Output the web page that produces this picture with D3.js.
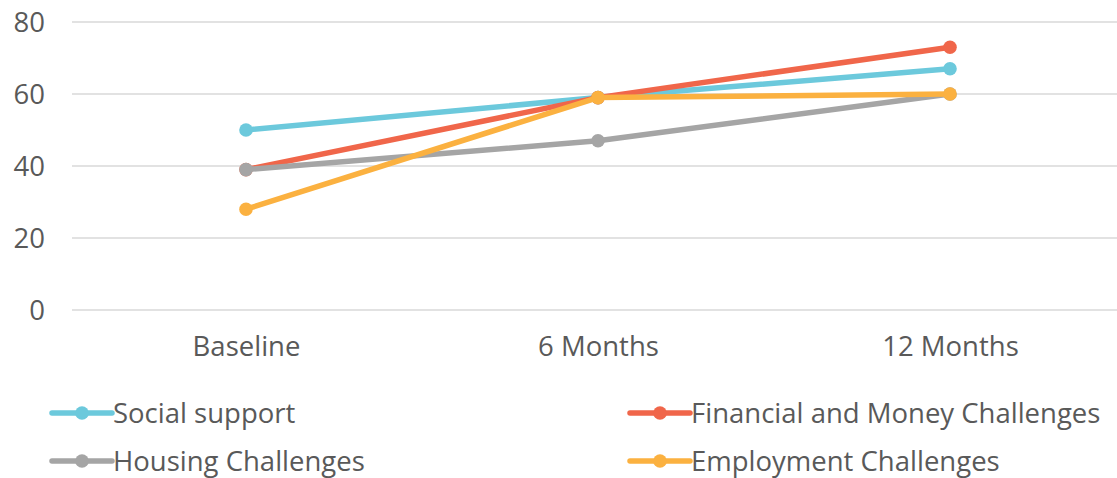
<!DOCTYPE html>
<html>
<head>
<meta charset="utf-8">
<script src="https://cdn.jsdelivr.net/npm/d3@7"></script>
<style>
  body { margin: 0; background: #fff; }
  svg text { font-family: "Open Sans", sans-serif; fill: #595959; }
</style>
</head>
<body>
<div id="chart"></div>
<script>
// data
categories = ["Baseline", "6 Months", "12 Months"];
seriesNames = ["Social support", "Financial and Money Challenges", "Housing Challenges", "Employment Challenges"];
socialSupport = [50, 59, 67];
financialMoney = [39, 59, 73];
housing = [39, 47, 60];
employment = [28, 59, 60];
yTicks = [0, 20, 40, 60, 80];

colors = ["#6cc9dc", "#f0664a", "#a5a5a5", "#fbb140"];
allSeries = [socialSupport, financialMoney, housing, employment];

width = 1117;
height = 478;
fontSize = "27.5px";

svg = d3.select("#chart").append("svg")
    .attr("width", width)
    .attr("height", height);

// scales
xScale = d3.scalePoint().domain(categories).range([246, 950]);
yScale = d3.scaleLinear().domain([0, 80]).range([310, 22]);

// grid lines
svg.append("g")
    .selectAll("line")
    .data(yTicks).enter()
    .append("line")
    .attr("x1", 72)
    .attr("x2", width)
    .attr("y1", d => yScale(d))
    .attr("y2", d => yScale(d))
    .attr("stroke", "#d9d9d9")
    .attr("stroke-width", 1.5);

// y axis labels
yAxis = d3.axisLeft(yScale).tickValues(yTicks).tickSize(0).tickPadding(0);
yAxisG = svg.append("g")
    .attr("transform", "translate(45,0)")
    .call(yAxis);
yAxisG.select(".domain").remove();
yAxisG.selectAll("text")
    .style("font-size", fontSize)
    .attr("dy", "0.35em");

// x axis labels
xAxis = d3.axisBottom(xScale).tickSize(0).tickPadding(0);
xAxisG = svg.append("g")
    .attr("transform", "translate(0,346)")
    .call(xAxis);
xAxisG.select(".domain").remove();
xAxisG.selectAll("text")
    .style("font-size", fontSize)
    .attr("dy", "0.35em");

line = d3.line()
    .x((d, i) => xScale(categories[i]))
    .y(d => yScale(d));

// lines + markers
allSeries.forEach(function(values, s) {
    g = svg.append("g");
    g.append("path")
        .attr("d", line(values))
        .attr("fill", "none")
        .attr("stroke", colors[s])
        .attr("stroke-width", 5.5)
        .attr("stroke-linejoin", "round");
    g.selectAll("circle")
        .data(values).enter()
        .append("circle")
        .attr("cx", (d, i) => xScale(categories[i]))
        .attr("cy", d => yScale(d))
        .attr("r", 6.8)
        .attr("fill", colors[s]);
});

// legend
legendPos = [[52, 413], [630, 413], [52, 461], [630, 461]];
legend = svg.append("g");
seriesNames.forEach(function(name, s) {
    x = legendPos[s][0];
    y = legendPos[s][1];
    item = legend.append("g").attr("transform", `translate(${x},${y})`);
    item.append("line")
        .attr("x1", 0).attr("x2", 60)
        .attr("stroke", colors[s])
        .attr("stroke-width", 5.5)
        .attr("stroke-linecap", "round");
    item.append("circle")
        .attr("cx", 30)
        .attr("r", 6.8)
        .attr("fill", colors[s]);
    item.append("text")
        .attr("x", 61)
        .attr("dy", "0.35em")
        .style("font-size", fontSize)
        .text(name);
});
</script>
</body>
</html>
